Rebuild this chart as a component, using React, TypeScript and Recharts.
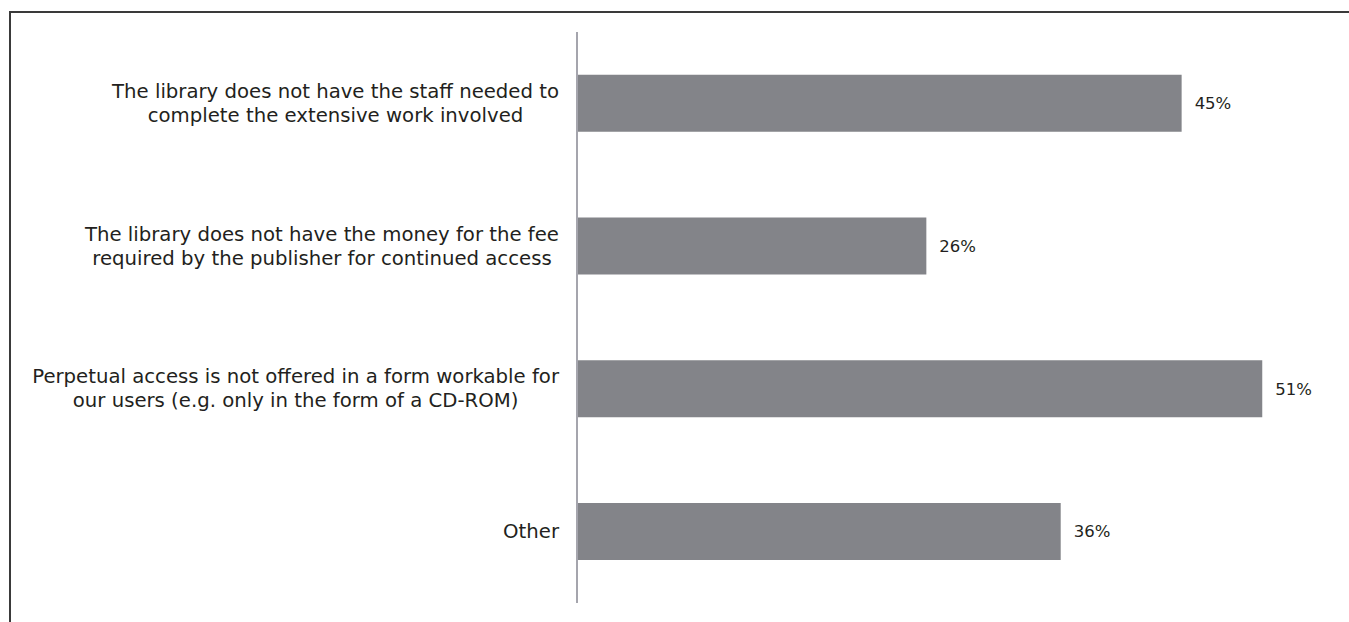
import { BarChart, Bar, XAxis, YAxis, LabelList } from "recharts";

const categories = [
  "The library does not have the staff needed to\ncomplete the extensive work involved",
  "The library does not have the money for the fee\nrequired by the publisher for continued access",
  "Perpetual access is not offered in a form workable for\nour users (e.g. only in the form of a CD-ROM)",
  "Other",
];
const shares = [45, 26, 51, 36];

const data = categories.map((name, i) => ({ name, value: shares[i] }));

const FONT = "DejaVu Sans";
const LABEL_SIZE = 19.7;

let ctx: CanvasRenderingContext2D | null = null;
const measure = (s: string) => {
  if (!ctx) ctx = document.createElement("canvas").getContext("2d");
  if (!ctx) return s.length * 10;
  ctx.font = `${LABEL_SIZE}px "${FONT}"`;
  return ctx.measureText(s).width;
};

const CategoryTick = (props: any) => {
  const { y, payload } = props;
  const lines: string[] = String(payload.value).split("\n");
  const right = 551;
  const maxW = Math.max(...lines.map(measure));
  const cx = right - maxW / 2;
  const lh = 24;
  const start = y - ((lines.length - 1) * lh) / 2;
  return (
    <g>
      {lines.map((l, i) => (
        <text
          key={i}
          x={cx}
          y={start + i * lh}
          textAnchor="middle"
          dominantBaseline="central"
          fontSize={LABEL_SIZE}
          fontFamily={FONT}
          fill="#231f20"
        >
          {l}
        </text>
      ))}
    </g>
  );
};

export default function App() {
  return (
    <div
      style={{
        position: "fixed",
        left: 0,
        top: 0,
        width: 1349,
        height: 622,
        overflow: "hidden",
        background: "#fff",
      }}
    >
      <div
        style={{
          position: "absolute",
          left: 9,
          top: 11,
          width: 1360,
          height: 640,
          borderTop: "2px solid #3a3a3a",
          borderLeft: "2px solid #3a3a3a",
        }}
      />
      <BarChart
        width={1341}
        height={614}
        data={data}
        layout="vertical"
        margin={{ top: 24, right: 33, bottom: 19, left: 0 }}
        barCategoryGap="30%"
        style={{ position: "absolute", left: 8, top: 8 }}
      >
        <XAxis type="number" domain={[0, 55]} hide />
        <YAxis
          type="category"
          dataKey="name"
          width={569}
          axisLine={{ stroke: "#a5a5ad", strokeWidth: 2 }}
          tickLine={false}
          tick={<CategoryTick />}
          interval={0}
        />
        <Bar dataKey="value" fill="#838489" isAnimationActive={false}>
          <LabelList
            dataKey="value"
            position="right"
            offset={13}
            formatter={(v: any) => `${v}%`}
            style={{ fontSize: 16.5, fontFamily: FONT, fill: "#231f20" }}
          />
        </Bar>
      </BarChart>
    </div>
  );
}
